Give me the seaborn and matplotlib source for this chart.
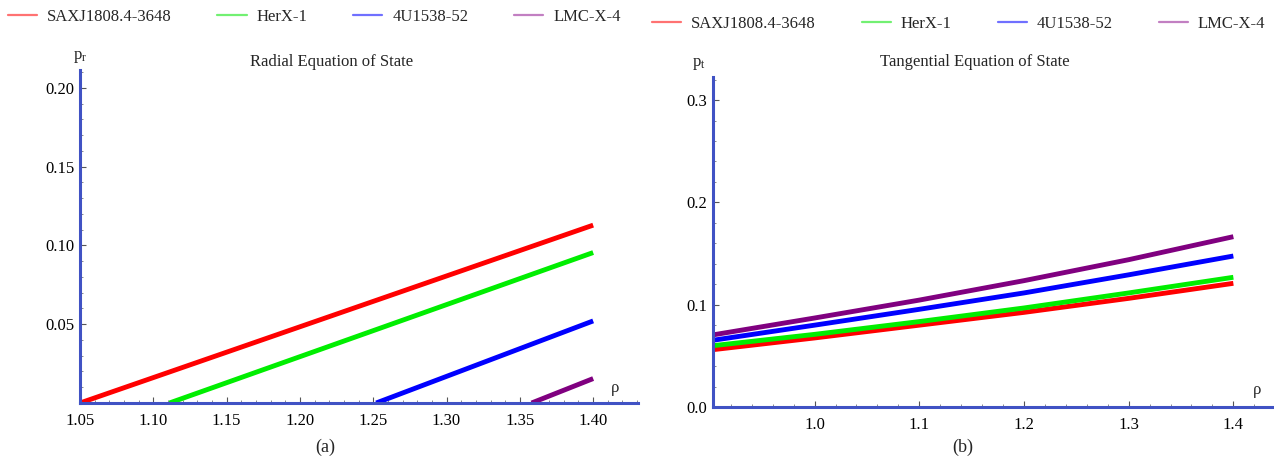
import numpy as np
import pandas as pd
import seaborn as sns
import matplotlib.pyplot as plt
from matplotlib.lines import Line2D
from matplotlib.ticker import MultipleLocator, FormatStrFormatter

# star models
stars = ["SAXJ1808.4-3648", "HerX-1", "4U1538-52", "LMC-X-4"]
line_colors = ["#ff0000", "#00ee00", "#0000ff", "#800080"]
legend_colors = ["#ff7272", "#72f072", "#7070ff", "#c27fc2"]

# (a) radial EoS: start (p_r = 0) and end points
rho_r = {
    "SAXJ1808.4-3648": [1.050, 1.40],
    "HerX-1": [1.111, 1.40],
    "4U1538-52": [1.252, 1.40],
    "LMC-X-4": [1.358, 1.40],
}
p_r = {
    "SAXJ1808.4-3648": [0.0, 0.1129],
    "HerX-1": [0.0, 0.0955],
    "4U1538-52": [0.0, 0.0521],
    "LMC-X-4": [0.0, 0.0155],
}

# (b) tangential EoS
rho_t = [0.90, 1.00, 1.10, 1.20, 1.30, 1.40]
p_t = {
    "SAXJ1808.4-3648": [0.0557, 0.0675, 0.0800, 0.0925, 0.1062, 0.1209],
    "HerX-1": [0.0596, 0.0710, 0.0835, 0.0968, 0.1115, 0.1268],
    "4U1538-52": [0.0648, 0.0800, 0.0955, 0.1115, 0.1292, 0.1476],
    "LMC-X-4": [0.0700, 0.0870, 0.1045, 0.1235, 0.1440, 0.1665],
}

df_r = pd.concat([pd.DataFrame({"rho": rho_r[s], "p": p_r[s], "star": s}) for s in stars])
df_t = pd.concat([pd.DataFrame({"rho": rho_t, "p": p_t[s], "star": s}) for s in stars])

sns.set_theme(style="white")
plt.rcParams["font.family"] = ["Liberation Serif", "DejaVu Serif"]
plt.rcParams["mathtext.fontset"] = "custom"
plt.rcParams["mathtext.rm"] = "Liberation Serif"
plt.rcParams["mathtext.it"] = "Liberation Serif"

axis_col = "#4052c4"
pal = dict(zip(stars, line_colors))

fig = plt.figure(figsize=(12.74, 4.66), dpi=100)
ax1 = fig.add_axes([0.0628, 0.1352, 0.438, 0.7146])
ax2 = fig.add_axes([0.5597, 0.1266, 0.4388, 0.708])

sns.lineplot(data=df_r, x="rho", y="p", hue="star", palette=pal, linewidth=3.5,
             legend=False, ax=ax1, solid_capstyle="butt")
sns.lineplot(data=df_t, x="rho", y="p", hue="star", palette=pal, linewidth=3.5,
             legend=False, ax=ax2, solid_capstyle="butt")

ax1.set_xlim(1.05, 1.4306)
ax1.set_ylim(0, 0.2114)
ax1.xaxis.set_minor_locator(MultipleLocator(0.01))
ax1.yaxis.set_minor_locator(MultipleLocator(0.01))
ax1.set_xticks([1.05, 1.10, 1.15, 1.20, 1.25, 1.30, 1.35, 1.40])
ax1.set_yticks([0.05, 0.10, 0.15, 0.20])
ax1.xaxis.set_major_formatter(FormatStrFormatter("%.2f"))
ax1.yaxis.set_major_formatter(FormatStrFormatter("%.2f"))

ax2.set_xlim(0.903, 1.437)
ax2.set_ylim(0, 0.3225)
ax2.xaxis.set_minor_locator(MultipleLocator(0.02))
ax2.yaxis.set_minor_locator(MultipleLocator(0.02))
ax2.set_xticks([1.0, 1.1, 1.2, 1.3, 1.4])
ax2.set_yticks([0.0, 0.1, 0.2, 0.3])
ax2.xaxis.set_major_formatter(FormatStrFormatter("%.1f"))
ax2.yaxis.set_major_formatter(FormatStrFormatter("%.1f"))

for ax in (ax1, ax2):
    ax.set_xlabel("")
    ax.set_ylabel("")
    for side in ("top", "right"):
        ax.spines[side].set_visible(False)
    for side in ("left", "bottom"):
        ax.spines[side].set_color(axis_col)
        ax.spines[side].set_linewidth(2.2)
    ax.tick_params(which="major", direction="in", length=4, width=0.8, color="#555555",
                   labelsize=12, labelcolor="black")
    ax.tick_params(which="minor", direction="in", length=2.5, width=0.6, color="#777777")
    ax.tick_params(bottom=True, left=True, which="both")
    ax.tick_params(axis="x", which="major", pad=7)
    ax.tick_params(axis="y", which="major", pad=4)

ax1.text(0.959, 0.045, "ρ", transform=ax1.transAxes, fontsize=12, ha="center", va="center")
ax2.text(0.973, 0.052, "ρ", transform=ax2.transAxes, fontsize=12, ha="center", va="center")
ax1.text(0.0, 1.04, r"$\mathrm{p}_\mathrm{r}$", transform=ax1.transAxes, fontsize=12,
         ha="center", va="center")
ax2.text(-0.025, 1.04, r"$\mathrm{p}_\mathrm{t}$", transform=ax2.transAxes, fontsize=12,
         ha="center", va="center")

fig.text(0.260, 0.867, "Radial Equation of State", fontsize=12, ha="center", va="center")
fig.text(0.765, 0.867, "Tangential Equation of State", fontsize=12, ha="center", va="center")
fig.text(0.255, 0.04, "(a)", fontsize=13, ha="center", va="center")
fig.text(0.756, 0.04, "(b)", fontsize=13, ha="center", va="center")

handles = [Line2D([0], [0], color=c, lw=1.6) for c in legend_colors]
leg_kw = dict(ncol=4, frameon=False, fontsize=12, handlelength=1.75, handletextpad=0.6,
              columnspacing=2.75, borderaxespad=0, borderpad=0)
fig.legend(handles, stars, loc="center left", bbox_to_anchor=(0.006, 0.963), **leg_kw)
fig.legend(handles, stars, loc="center left", bbox_to_anchor=(0.5118, 0.948), **leg_kw)

fig.savefig("out.png", dpi=100)
